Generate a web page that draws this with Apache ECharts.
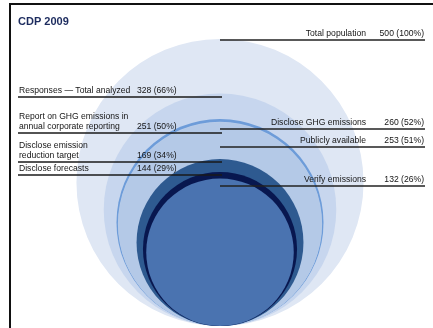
<!DOCTYPE html>
<html>
<head>
<meta charset="utf-8">
<script src="https://cdn.jsdelivr.net/npm/echarts@6/dist/echarts.min.js"></script>
<style>
  html, body { margin: 0; padding: 0; background: #fff; }
  #chart { width: 433px; height: 328px; }
</style>
</head>
<body>
<div id="chart"></div>
<script>
// CDP 2009 funnel, largest group first
const categories = [
  "Total population",
  "Responses \u2014 Total analyzed",
  "Disclose GHG emissions",
  "Publicly available",
  "Report on GHG emissions in\nannual corporate reporting",
  "Disclose emission\nreduction target",
  "Disclose forecasts",
  "Verify emissions"
];
const values = [500, 328, 260, 253, 251, 169, 144, 132];
const total = 500;

const layerColors = ["#dfe7f4", "#c7d6ee", "#6d9cd9", "#b8cce9", "#b4c9e7", "#2e5a90", "#08174f", "#4a73b0"];
// which side the label goes and y of its rule line (pixels)
const labelSide = ["right", "left", "right", "right", "left", "left", "left", "right"];
const labelLineY = [40, 97, 129, 147, 133, 162, 175, 186];

const chart = echarts.init(document.getElementById("chart"));

const gridTop = 5, gridBottom = 2, gridH = 328 - gridTop - gridBottom;
const yMax = 50;
const xHalf = (200 / gridH) * yMax;

const textStyle = { fontFamily: "Liberation Sans", fontSize: 8.6, fill: "#151515" };
const graphics = [
  // frame
  { type: "line", shape: { x1: 9, y1: 4, x2: 433, y2: 4 }, style: { stroke: "#111", lineWidth: 2 }, z: 10 },
  { type: "line", shape: { x1: 10, y1: 4, x2: 10, y2: 328 }, style: { stroke: "#111", lineWidth: 2 }, z: 10 },
  {
    type: "text", left: 18, top: 16, z: 10,
    style: { text: "CDP 2009", fontFamily: "Liberation Sans", fontSize: 11, fontWeight: "bold", fill: "#1c2b5e" }
  }
];

categories.forEach((name, i) => {
  const y = labelLineY[i];
  const valText = values[i] + " (" + Math.round(values[i] / total * 100) + "%)";
  if (labelSide[i] === "left") {
    graphics.push(
      { type: "line", shape: { x1: 18, y1: y, x2: 222, y2: y }, style: { stroke: "#1a1a1a", lineWidth: 1.3 }, z: 10 },
      { type: "text", x: 19, y: y - 1.5, z: 10,
        style: Object.assign({ text: name, align: "left", verticalAlign: "bottom", lineHeight: 10 }, textStyle) },
      { type: "text", x: 137, y: y - 1.5, z: 10,
        style: Object.assign({ text: valText, align: "left", verticalAlign: "bottom" }, textStyle) }
    );
  } else {
    graphics.push(
      { type: "line", shape: { x1: 220, y1: y, x2: 425, y2: y }, style: { stroke: "#222", lineWidth: 1.3 }, z: 10 },
      { type: "text", x: 366, y: y - 1.5, z: 10,
        style: Object.assign({ text: name, align: "right", verticalAlign: "bottom" }, textStyle) },
      { type: "text", x: 424, y: y - 1.5, z: 10,
        style: Object.assign({ text: valText, align: "right", verticalAlign: "bottom" }, textStyle) }
    );
  }
});

const option = {
  animation: false,
  grid: { left: 20, right: 13, top: gridTop, bottom: gridBottom },
  xAxis: { type: "value", min: -xHalf, max: xHalf, show: false },
  yAxis: { type: "value", min: 0, max: yMax, show: false },
  graphic: graphics,
  series: [
    {
      type: "custom",
      // circle area proportional to value, all sitting on the same baseline
      data: values.map(v => [0, Math.sqrt(v)]),
      renderItem: (params, api) => {
        const r = api.value(1);
        const c = api.coord([0, r]);
        const rad = api.size([0, r])[1];
        return {
          type: "circle",
          shape: { cx: c[0], cy: c[1], r: rad },
          style: { fill: layerColors[params.dataIndex] }
        };
      },
      z: 2
    }
  ]
};

chart.setOption(option);
</script>
</body>
</html>
